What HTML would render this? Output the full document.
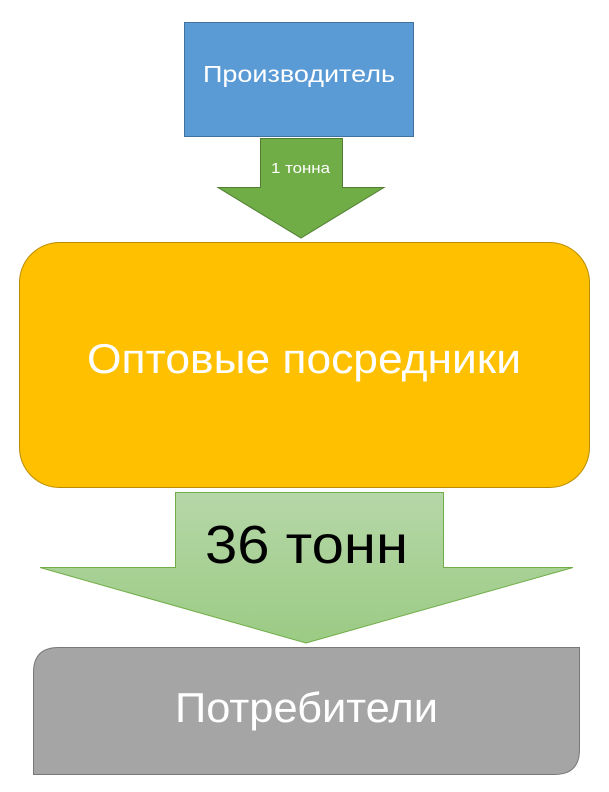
<!DOCTYPE html>
<html><head><meta charset="utf-8"><style>
body{margin:0;background:#fff;width:609px;height:787px;overflow:hidden}
svg text{font-family:"Liberation Sans","DejaVu Sans",sans-serif}
</style></head><body>
<svg width="609" height="787" xmlns="http://www.w3.org/2000/svg">
<defs><linearGradient id="g" x1="0" y1="0" x2="0" y2="1"><stop offset="0" stop-color="#b6d7a8"/><stop offset="1" stop-color="#9bcb84"/></linearGradient></defs>
<rect x="184.5" y="22.5" width="229" height="114" fill="#5b9bd5" stroke="#41719c"/>
<text x="203" y="82" font-size="23" fill="#fff" textLength="192" lengthAdjust="spacingAndGlyphs">Производитель</text>
<polygon points="260.5,138.5 342.5,138.5 342.5,187.5 384,187.5 301,238 218,187.5 260.5,187.5" fill="#70ad47" stroke="#507e32"/>
<text x="271" y="173" font-size="15" fill="#fff" textLength="59" lengthAdjust="spacingAndGlyphs">1 тонна</text>
<rect x="19.5" y="242.5" width="570" height="245" rx="40" fill="#ffc000" stroke="#bc8c00"/>
<text x="87" y="373" font-size="42" fill="#fff" textLength="434" lengthAdjust="spacingAndGlyphs">Оптовые посредники</text>
<polygon points="175.5,492.5 443.5,492.5 443.5,567.5 573,567.5 306,643 40,567.5 175.5,567.5" fill="url(#g)" stroke="#70ad47"/>
<text x="205" y="563" font-size="54" fill="#000" textLength="203" lengthAdjust="spacingAndGlyphs">36 тонн</text>
<path d="M58.5,647.5 H579.5 V749.5 Q579.5,774.5 554.5,774.5 H33.5 V672.5 Q33.5,647.5 58.5,647.5 Z" fill="#a5a5a5" stroke="#787878"/>
<text x="175" y="722" font-size="42" fill="#fff" textLength="263" lengthAdjust="spacingAndGlyphs">Потребители</text>
</svg>
</body></html>
